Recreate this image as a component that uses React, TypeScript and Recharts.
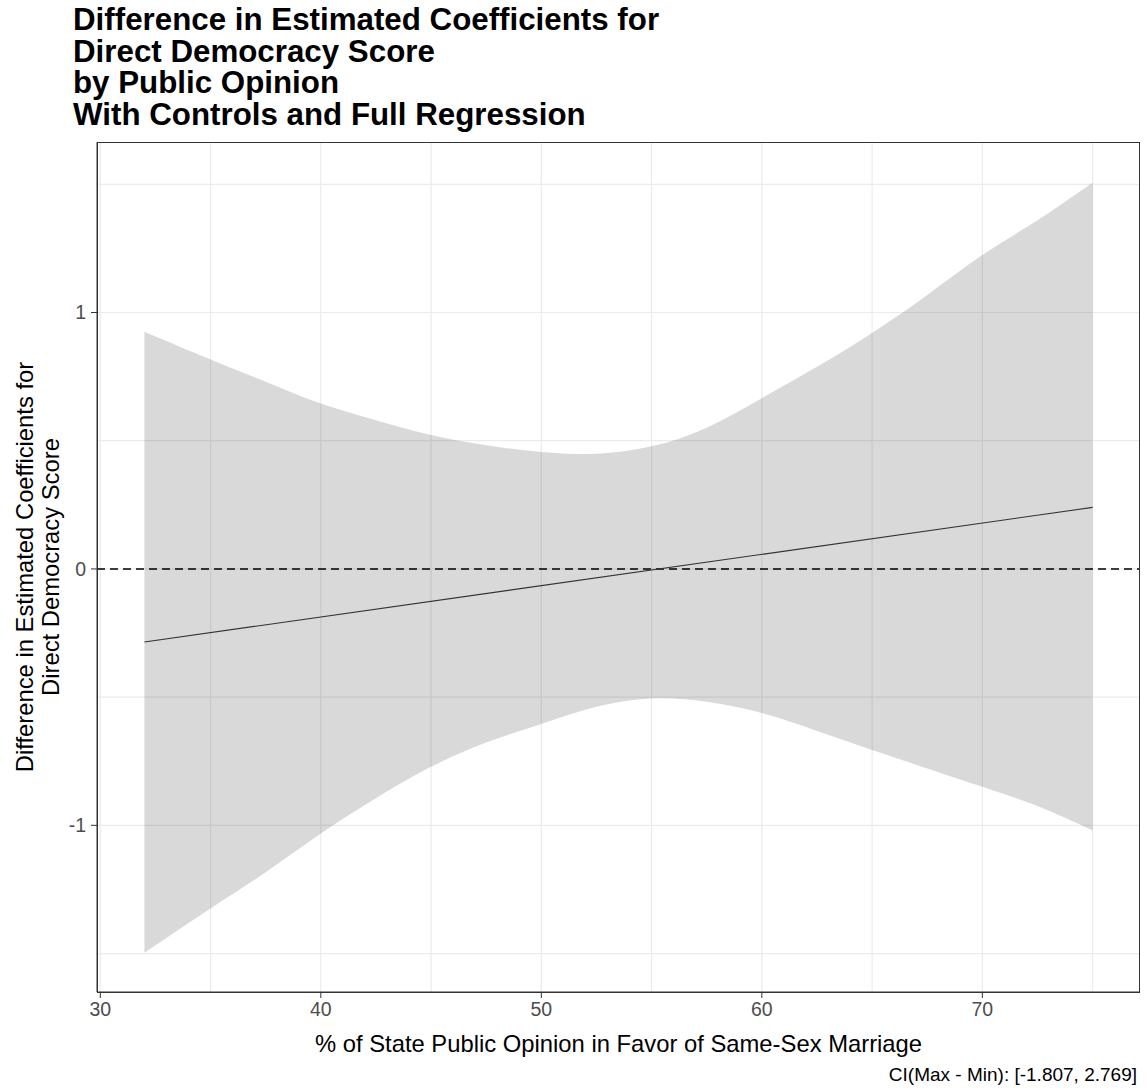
import { ComposedChart, Area, Line, XAxis, YAxis, CartesianGrid, ReferenceLine } from "recharts";

// support of public opinion (%) where the ribbon was evaluated
const opinion = [32, 35, 37.5, 40, 42.5, 45, 47.5, 50, 52.5, 55, 57.5, 60, 62.5, 65, 67.5, 70, 72.5, 75];
const ciUpper = [0.925, 0.817, 0.73, 0.645, 0.58, 0.522, 0.482, 0.456, 0.449, 0.478, 0.551, 0.666, 0.788, 0.92, 1.068, 1.224, 1.36, 1.506];
const ciLower = [-1.497, -1.324, -1.183, -1.032, -0.894, -0.772, -0.677, -0.605, -0.538, -0.505, -0.518, -0.562, -0.632, -0.706, -0.778, -0.85, -0.925, -1.02];

// estimated difference (straight line, endpoints)
const estOpinion = [32, 75];
const estValue = [-0.285, 0.24];

const xTicks = [30, 40, 50, 60, 70];
const yTicks = [-1, 0, 1];
const xGrid = [30, 35, 40, 45, 50, 55, 60, 65, 70, 75];
const yGrid = [-1.5, -1, -0.5, 0, 0.5, 1, 1.5];

const data = opinion.map((x, i) => {
  const k = estOpinion.indexOf(x);
  return {
    x,
    band: [ciLower[i], ciUpper[i]],
    est: k >= 0 ? estValue[k] : null,
  };
});

const FONT = '"Liberation Sans", Arial, sans-serif';
const tickStyle = { fill: "#4d4d4d", fontSize: 19.5, fontFamily: FONT };

export default function App() {
  return (
    <div
      style={{
        position: "absolute",
        left: 0,
        top: 0,
        width: 1147,
        height: 1091,
        background: "#fff",
        fontFamily: FONT,
        overflow: "hidden",
      }}
    >
      <div
        style={{
          position: "absolute",
          left: 73,
          top: 4,
          fontSize: 31.3,
          fontWeight: "bold",
          lineHeight: "31.5px",
          whiteSpace: "pre",
          color: "#000",
        }}
      >
        {"Difference in Estimated Coefficients for\nDirect Democracy Score\nby Public Opinion\nWith Controls and Full Regression"}
      </div>

      <ComposedChart
        width={1147}
        height={1091}
        data={data}
        margin={{ top: 142, right: 7, bottom: 59, left: 57 }}
      >
        <CartesianGrid
          stroke="#ebebeb"
          strokeWidth={1.2}
          horizontalValues={yGrid}
          verticalValues={xGrid}
        />
        <XAxis
          dataKey="x"
          type="number"
          domain={[29.85, 77.15]}
          ticks={xTicks}
          allowDataOverflow
          height={40}
          tick={tickStyle}
          tickSize={6}
          tickMargin={4}
          stroke="#333"
        />
        <YAxis
          type="number"
          domain={[-1.65, 1.665]}
          ticks={yTicks}
          allowDataOverflow
          width={40}
          tick={tickStyle}
          tickSize={6}
          tickMargin={5}
          stroke="#333"
        />
        <Area
          dataKey="band"
          type="natural"
          fill="#000"
          fillOpacity={0.15}
          stroke="none"
          isAnimationActive={false}
        />
        <ReferenceLine y={0} stroke="#000" strokeWidth={1.5} strokeDasharray="8 5" />
        <Line
          dataKey="est"
          type="linear"
          stroke="#333"
          strokeWidth={1.1}
          dot={false}
          connectNulls
          isAnimationActive={false}
        />
      </ComposedChart>

      {/* panel border */}
      <div
        style={{
          position: "absolute",
          left: 97,
          top: 141.5,
          width: 1043,
          height: 851,
          border: "1.3px solid #333",
          boxSizing: "border-box",
          pointerEvents: "none",
        }}
      />

      {/* y axis title */}
      <div
        style={{
          position: "absolute",
          left: 38,
          top: 567,
          transform: "translate(-50%, -50%) rotate(-90deg)",
          fontSize: 23.8,
          lineHeight: "26px",
          textAlign: "center",
          whiteSpace: "pre",
          color: "#000",
        }}
      >
        {"Difference in Estimated Coefficients for\nDirect Democracy Score"}
      </div>

      {/* x axis title */}
      <div
        style={{
          position: "absolute",
          left: 618.5,
          top: 1044,
          transform: "translate(-50%, -50%)",
          fontSize: 23.8,
          whiteSpace: "nowrap",
          color: "#000",
        }}
      >
        % of State Public Opinion in Favor of Same-Sex Marriage
      </div>

      {/* caption */}
      <div
        style={{
          position: "absolute",
          right: 10,
          top: 1075,
          transform: "translateY(-50%)",
          fontSize: 19,
          whiteSpace: "nowrap",
          color: "#000",
        }}
      >
        CI(Max - Min): [-1.807, 2.769]
      </div>
    </div>
  );
}
